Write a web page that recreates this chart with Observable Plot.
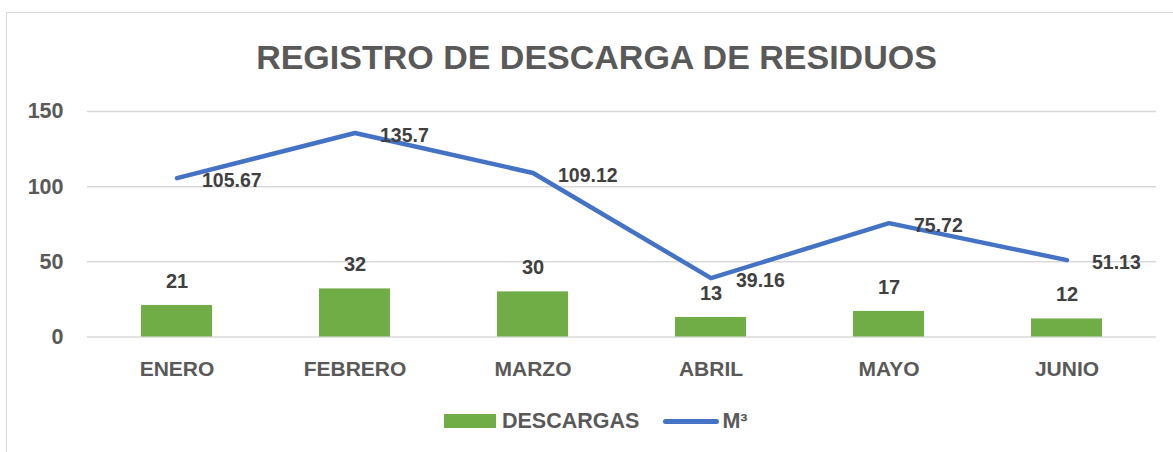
<!DOCTYPE html>
<html>
<head>
<meta charset="utf-8">
<script src="https://cdn.jsdelivr.net/npm/d3@7"></script>
<script src="https://cdn.jsdelivr.net/npm/@observablehq/plot@0.6"></script>
<style>
  html, body { margin: 0; padding: 0; background: #fff; }
  #wrap { position: relative; width: 1173px; height: 452px; overflow: hidden; font-family: "Liberation Sans", Arial, sans-serif; }
  #frame { position: absolute; left: 6px; top: 12px; width: 1200px; height: 480px; border: 1px solid #d9d9d9; box-sizing: border-box; }
  #title { position: absolute; left: 0; width: 1193px; top: 37px; text-align: center; font-size: 34px; font-weight: bold; color: #595959; line-height: 40px; }
  #chart { position: absolute; left: 0; top: 0; }
  #chart svg text { font-weight: bold; }
  #legend { position: absolute; top: 408px; left: 444px; height: 26px; display: flex; align-items: center; font-size: 21.5px; font-weight: bold; color: #595959; }
  .sw-bar { width: 52px; height: 14px; background: #70AD47; margin-right: 6px; }
  .sw-line { width: 56px; height: 5px; border-radius: 3px; background: #4472C4; margin-left: 24px; margin-right: 3px; }
</style>
</head>
<body>
<div id="wrap">
  <div id="frame"></div>
  <div id="chart"></div>
  <div id="title">REGISTRO DE DESCARGA DE RESIDUOS</div>
  <div id="legend"><div class="sw-bar"></div><span>DESCARGAS</span><div class="sw-line"></div><span>M³</span></div>
</div>
<script>
const months = ["ENERO", "FEBRERO", "MARZO", "ABRIL", "MAYO", "JUNIO"];
const descargas = [21, 32, 30, 13, 17, 12];
const m3 = [105.67, 135.7, 109.12, 39.16, 75.72, 51.13];
const yTicks = [0, 50, 100, 150];

const rows = months.map((m, i) => ({month: m, descargas: descargas[i], m3: m3[i]}));

const chart = Plot.plot({
  width: 1173,
  height: 390,
  marginLeft: 87,
  marginRight: 17,
  marginTop: 111,
  marginBottom: 53.5,
  style: {fontFamily: "'Liberation Sans', Arial, sans-serif", background: "transparent", overflow: "visible"},
  x: {domain: months, paddingInner: 0.6, paddingOuter: 0.3, label: null},
  y: {domain: [0, 150], label: null},
  marks: [
    Plot.ruleY(yTicks, {stroke: "#d9d9d9", strokeWidth: 1.5}),
    Plot.axisY({ticks: yTicks, tickSize: 0, tickPadding: 24, fontSize: 21.5, fill: "#595959", label: null}),
    Plot.axisX({tickSize: 0, tickPadding: 24, fontSize: 21, fill: "#595959", label: null}),
    Plot.barY(rows, {x: "month", y: "descargas", fill: "#70AD47"}),
    Plot.lineY(rows, {x: "month", y: "m3", stroke: "#4472C4", strokeWidth: 4.5, strokeLinecap: "round", strokeLinejoin: "round"}),
    Plot.text(rows, {x: "month", y: "descargas", text: d => String(d.descargas), dy: -24, fill: "#404040", fontSize: 20}),
    Plot.text(rows, {x: "month", y: "m3", text: d => String(d.m3), textAnchor: "start", dx: 25, dy: 3, fill: "#404040", fontSize: 19.5})
  ]
});
document.getElementById("chart").appendChild(chart);
</script>
</body>
</html>
